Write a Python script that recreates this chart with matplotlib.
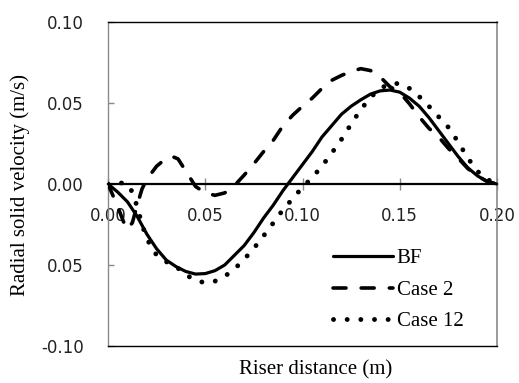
import matplotlib
matplotlib.use("Agg")
import matplotlib.pyplot as plt

# ---- data ----
x_bf = [0.0, 0.005, 0.01, 0.015, 0.02, 0.025, 0.03, 0.035, 0.04, 0.045, 0.05,
        0.055, 0.06, 0.065, 0.07, 0.075, 0.08, 0.085, 0.09, 0.095, 0.10,
        0.105, 0.11, 0.115, 0.12, 0.125, 0.13, 0.135, 0.14, 0.145, 0.15,
        0.155, 0.16, 0.165, 0.17, 0.175, 0.18, 0.185, 0.19, 0.195, 0.20]
y_bf = [0.0, -0.005, -0.011, -0.020, -0.031, -0.040, -0.047, -0.051, -0.054, -0.0556, -0.0553,
        -0.0535, -0.050, -0.044, -0.038, -0.030, -0.021, -0.013, -0.004, 0.004, 0.012,
        0.020, 0.029, 0.036, 0.043, 0.048, 0.052, 0.0555, 0.0575, 0.058, 0.0567,
        0.053, 0.048, 0.041, 0.033, 0.025, 0.017, 0.010, 0.005, 0.0015, 0.0]

x_c2 = [0.0, 0.005, 0.0095, 0.0125, 0.015, 0.0175, 0.02, 0.025, 0.03, 0.033, 0.036,
        0.04, 0.045, 0.05, 0.055, 0.06, 0.065, 0.07, 0.075, 0.08, 0.085, 0.09,
        0.095, 0.10, 0.105, 0.11, 0.115, 0.12, 0.125, 0.13, 0.135, 0.14, 0.145,
        0.15, 0.155, 0.16, 0.165, 0.17, 0.175, 0.18, 0.185, 0.19, 0.195, 0.20]
y_c2 = [0.0, -0.014, -0.028, -0.024, -0.013, -0.003, 0.003, 0.011, 0.016, 0.017, 0.0155,
        0.008, -0.0015, -0.0055, -0.007, -0.0055, -0.001, 0.0055, 0.0125, 0.020, 0.027, 0.036,
        0.0425, 0.048, 0.053, 0.059, 0.064, 0.067, 0.0695, 0.0712, 0.070, 0.066, 0.060,
        0.0565, 0.0495, 0.0415, 0.0344, 0.029, 0.022, 0.016, 0.0095, 0.005, 0.0015, 0.0]

x_c12 = [0.0, 0.005, 0.01, 0.0125, 0.015, 0.0175, 0.02, 0.025, 0.03, 0.035, 0.04,
         0.045, 0.05, 0.055, 0.06, 0.065, 0.07, 0.075, 0.08, 0.085, 0.09, 0.095,
         0.10, 0.105, 0.11, 0.115, 0.12, 0.125, 0.13, 0.135, 0.14, 0.145, 0.15,
         0.155, 0.16, 0.165, 0.17, 0.175, 0.18, 0.185, 0.19, 0.195, 0.20]
y_c12 = [0.0, 0.001, 0.0, -0.005, -0.014, -0.025, -0.034, -0.044, -0.048, -0.051, -0.056,
         -0.0595, -0.061, -0.060, -0.057, -0.0525, -0.0465, -0.0397, -0.032, -0.024, -0.0158, -0.009,
         -0.002, 0.004, 0.011, 0.019, 0.0275, 0.037, 0.046, 0.0535, 0.059, 0.062, 0.062,
         0.059, 0.054, 0.048, 0.0415, 0.035, 0.026, 0.016, 0.0078, 0.0028, 0.0]

series_labels = ["BF", "Case 2", "Case 12"]
xticks = [0.0, 0.05, 0.10, 0.15, 0.20]
xtick_labels = ["0.00", "0.05", "0.10", "0.15", "0.20"]
yticks = [-0.10, -0.05, 0.0, 0.05, 0.10]
ytick_labels = ["-0.10", "0.05", "0.00", "0.05", "0.10"]
x_title = "Riser distance (m)"
y_title = "Radial solid velocity (m/s)"

# ---- figure ----
W, H = 519, 383
fig = plt.figure(figsize=(W / 100, H / 100), dpi=100)
ax = fig.add_axes([108 / W, 1 - 346 / H, (497 - 108) / W, (346 - 22) / H])

ax.set_xlim(0, 0.20)
ax.set_ylim(-0.10, 0.10)

gray = "#8a8a8a"
serif = ["Liberation Serif", "DejaVu Serif"]

ax.plot(x_bf, y_bf, color="black", lw=2.3, solid_capstyle="round",
        label=series_labels[0], zorder=3)
ax.plot(x_c2, y_c2, color="black", lw=2.6, linestyle=(0, (3.6, 4.2)),
        dash_capstyle="round", label=series_labels[1], zorder=3)
ax.plot(x_c12, y_c12, color="black", lw=3.5, linestyle=(0, (0.01, 2.8)),
        dash_capstyle="round", label=series_labels[2], zorder=3)

# spines
ax.spines["bottom"].set_position(("data", 0))
ax.spines["bottom"].set_color("black")
ax.spines["bottom"].set_linewidth(1.6)
ax.spines["top"].set_color("black")
ax.spines["top"].set_linewidth(1.0)
ax.spines["left"].set_color(gray)
ax.spines["left"].set_linewidth(1.0)
ax.spines["right"].set_color(gray)
ax.spines["right"].set_linewidth(1.2)
ax.plot([0, 1], [0, 0], transform=ax.transAxes, color="black", lw=1.0,
        clip_on=False, zorder=2.6)

ax.set_xticks(xticks)
ax.set_xticklabels(xtick_labels)
ax.set_yticks(yticks)
ax.set_yticklabels(ytick_labels)
ax.tick_params(axis="x", direction="inout", length=9, width=1.0, color=gray,
               pad=12, labelsize=12, labelcolor="#222222")
ax.tick_params(axis="y", direction="in", length=4.5, width=1.0, color=gray,
               pad=17.5, labelsize=12, labelcolor="#222222")
for t in ax.get_xticklabels() + ax.get_yticklabels():
    t.set_fontfamily("DejaVu Sans")

fig.text(20 / W, 1 - 185 / H, y_title, rotation=90, ha="center", va="center",
         fontsize=15, family=serif)
fig.text(316 / W, 1 - 370 / H, x_title, ha="center", va="center",
         fontsize=15, family=serif)

leg = ax.legend(loc="center left", bbox_to_anchor=(333 / W, 1 - 290 / H),
                bbox_transform=fig.transFigure, frameon=False,
                prop={"family": serif, "size": 15},
                handlelength=2.9, handletextpad=0.15, labelspacing=0.58,
                borderpad=0, borderaxespad=0)

fig.savefig("out.png", dpi=100)
